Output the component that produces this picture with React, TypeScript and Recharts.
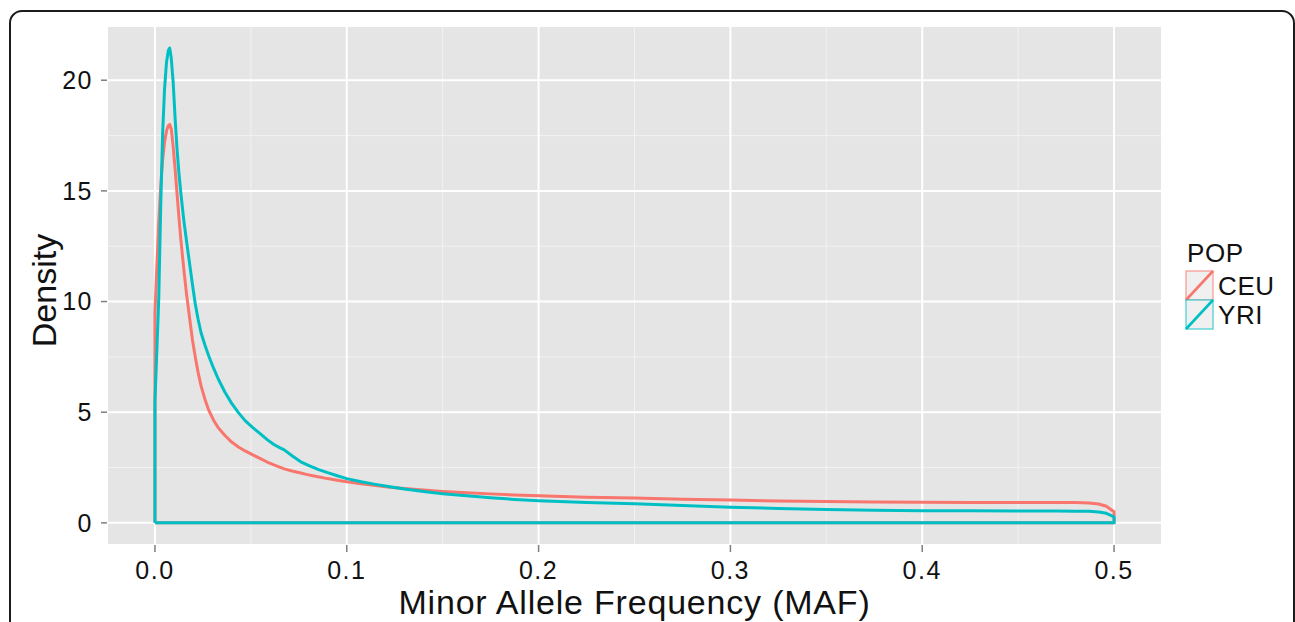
import React from 'react';
import { ComposedChart, Line, XAxis, YAxis, CartesianGrid } from 'recharts';

const mafGrid = [
  0, 0.001, 0.002, 0.003, 0.004, 0.005, 0.006, 0.007, 0.0077, 0.0085,
  0.0095, 0.0105, 0.0115, 0.0125, 0.0135, 0.015, 0.0165, 0.018, 0.0195, 0.021,
  0.0225, 0.024, 0.026, 0.028, 0.0305, 0.033, 0.0365, 0.04, 0.0435, 0.047,
  0.051, 0.055, 0.0585, 0.062, 0.065, 0.0674, 0.072, 0.076, 0.08, 0.085,
  0.09, 0.095, 0.1, 0.1075, 0.115, 0.1225, 0.13, 0.14, 0.15, 0.1625,
  0.175, 0.1875, 0.2, 0.225, 0.25, 0.275, 0.3, 0.325, 0.35, 0.375,
  0.4, 0.425, 0.45, 0.47, 0.48, 0.487, 0.492, 0.496, 0.5,
];

const ceuDensity = [
  9.5, 11.6, 13.6, 15.2, 16.4, 17.2, 17.7, 17.95, 18.0, 17.8,
  17.0, 16.0, 14.9, 13.8, 12.8, 11.5, 10.3, 9.3, 8.3, 7.5,
  6.8, 6.2, 5.6, 5.1, 4.65, 4.3, 3.95, 3.65, 3.43, 3.25,
  3.07, 2.9, 2.75, 2.62, 2.52, 2.44, 2.33, 2.25, 2.17, 2.08,
  2.0, 1.93, 1.86, 1.77, 1.69, 1.61, 1.55, 1.48, 1.42, 1.36,
  1.31, 1.26, 1.22, 1.16, 1.12, 1.07, 1.03, 0.99, 0.96, 0.94,
  0.93, 0.92, 0.92, 0.92, 0.92, 0.9, 0.85, 0.75, 0.5,
];

const yriDensity = [
  5.5, 7.8, 10.2, 14.3, 17.6, 19.6, 20.8, 21.35, 21.45, 21.0,
  19.9, 18.3, 16.9, 15.8, 14.9, 13.7, 12.7, 11.75, 10.8, 9.9,
  9.2, 8.6, 8.05, 7.55, 7.0, 6.5, 5.9, 5.4, 4.98, 4.62,
  4.3, 4.02, 3.76, 3.54, 3.4, 3.3, 3.0, 2.76, 2.6, 2.42,
  2.27, 2.13, 2.0, 1.86, 1.74, 1.63, 1.53, 1.42, 1.32, 1.22,
  1.14, 1.06, 1.0, 0.92, 0.86, 0.78, 0.71, 0.65, 0.6, 0.57,
  0.55, 0.545, 0.54, 0.535, 0.53, 0.52, 0.49, 0.43, 0.27,
];

const popNames = ['CEU', 'YRI'];
const popColors = ['#F8766D', '#00BFC4'];

const xTicks = [0, 0.1, 0.2, 0.3, 0.4, 0.5];
const xMinor = [0.05, 0.15, 0.25, 0.35, 0.45];
const yTicks = [0, 5, 10, 15, 20];
const yMinor = [2.5, 7.5, 12.5, 17.5];

const FONT = '"Liberation Sans", Arial, Helvetica, sans-serif';

// closed outline like geom_density: up the left side, along the curve, back along zero
const toPolygon = (values: number[]) => [
  { maf: 0, density: 0 },
  ...mafGrid.map((maf, i) => ({ maf, density: values[i] })),
  { maf: 0.5, density: 0 },
  { maf: 0, density: 0 },
];

const series = [toPolygon(ceuDensity), toPolygon(yriDensity)];

const DensityTitle = (props: any) => {
  const vb = props.viewBox || { x: 0, y: 26, width: 107, height: 519 };
  const x = vb.x + 56;
  const y = vb.y + vb.height / 2 + 5;
  return (
    <text
      x={x}
      y={y}
      transform={`rotate(-90 ${x} ${y})`}
      textAnchor="middle"
      fontSize={34}
      fontFamily={FONT}
      fill="#111"
    >
      Density
    </text>
  );
};

const Legend = () => (
  <svg
    width={115}
    height={110}
    style={{ position: 'absolute', left: 1180, top: 235 }}
  >
    <text x={7} y={27} fontSize={26} fontFamily={FONT} fill="#111" letterSpacing={0.6}>
      POP
    </text>
    {popNames.map((name, i) => {
      const y0 = 36 + i * 29;
      return (
        <g key={name}>
          <rect
            x={6}
            y={y0}
            width={27}
            height={29}
            fill="#F0F0F0"
            stroke={popColors[i]}
            strokeOpacity={0.6}
            strokeWidth={1.5}
          />
          <line x1={6} y1={y0 + 29} x2={33} y2={y0} stroke={popColors[i]} strokeWidth={2.6} />
          <text x={38} y={y0 + 24} fontSize={26} fontFamily={FONT} fill="#111" letterSpacing={0.6}>
            {name}
          </text>
        </g>
      );
    })}
  </svg>
);

export default function App() {
  return (
    <div style={{ position: 'relative', width: 1295, height: 622, overflow: 'hidden', background: '#fff' }}>
      <style>{'body{margin:0;overflow:hidden;}'}</style>
      <ComposedChart
        width={1295}
        height={622}
        margin={{ top: 26, right: 133, left: 0, bottom: 0 }}
      >
        <CartesianGrid
          fill="#E5E5E5"
          stroke="#F2F2F2"
          strokeWidth={1}
          horizontalValues={yMinor}
          verticalValues={xMinor}
        />
        <CartesianGrid stroke="#FFFFFF" strokeWidth={2} />
        <XAxis
          type="number"
          dataKey="maf"
          domain={[-0.025, 0.525]}
          allowDataOverflow
          ticks={xTicks}
          tickFormatter={(v: number) => v.toFixed(1)}
          height={77}
          axisLine={false}
          tickSize={7}
          tickMargin={9}
          tickLine={{ stroke: '#7F7F7F', strokeWidth: 1.5 }}
          tick={{ fontSize: 25, fill: '#111', fontFamily: FONT, letterSpacing: 1.5 }}
          label={{
            value: 'Minor Allele Frequency (MAF)',
            position: 'insideBottom',
            offset: 8,
            fontSize: 34,
            fontFamily: FONT,
            fill: '#111',
            letterSpacing: 0.8,
          }}
        />
        <YAxis
          type="number"
          domain={[-1.0, 22.45]}
          allowDataOverflow
          ticks={yTicks}
          width={107}
          axisLine={false}
          tickSize={6}
          tickMargin={8}
          tickLine={{ stroke: '#7F7F7F', strokeWidth: 1.5 }}
          tick={{ fontSize: 25, fill: '#111', fontFamily: FONT, letterSpacing: 1.5 }}
          label={{ content: DensityTitle }}
        />
        {series.map((data, i) => (
          <Line
            key={popNames[i]}
            data={data}
            dataKey="density"
            name={popNames[i]}
            type="linear"
            stroke={popColors[i]}
            strokeWidth={3}
            strokeLinejoin="round"
            dot={false}
            activeDot={false}
            isAnimationActive={false}
          />
        ))}
      </ComposedChart>
      <Legend />
      <div
        style={{
          position: 'absolute',
          left: 9,
          top: 10,
          width: 1286,
          height: 700,
          border: '2px solid #1c1c1c',
          borderRadius: 13,
          boxSizing: 'border-box',
          pointerEvents: 'none',
        }}
      />
    </div>
  );
}
